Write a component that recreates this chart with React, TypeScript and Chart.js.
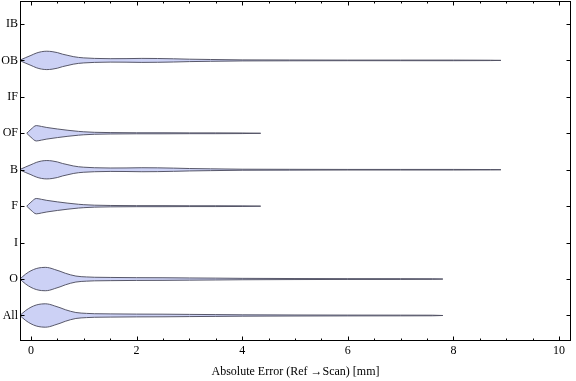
import React, { useEffect, useRef } from "react";
import { Chart, registerables } from "chart.js";

Chart.register(...registerables);

// Category labels, bottom (index 0) to top
const categories = ["All", "O", "I", "F", "B", "OF", "IF", "OB", "IB"];
const xTickValues = [0, 2, 4, 6, 8, 10];
const xTitle = "Absolute Error (Ref \u2192Scan) [mm]";

// Violin shapes: x positions (mm) and half-widths (in category units)
const obX = [-0.22, -0.1, 0, 0.1, 0.2, 0.3, 0.4, 0.5, 0.6, 0.7, 0.8, 0.9, 1.0, 1.2, 1.5, 1.8, 2.1, 2.4, 2.7, 3.0, 3.4, 4.0, 4.9, 6.0, 7.0, 8.0, 8.7, 8.9];
const obW = [0, 0.077, 0.137, 0.2, 0.239, 0.252, 0.241, 0.214, 0.17, 0.137, 0.104, 0.082, 0.069, 0.055, 0.047, 0.049, 0.055, 0.052, 0.044, 0.033, 0.025, 0.014, 0.011, 0.008, 0.008, 0.008, 0.005, 0];

const ofX = [-0.08, 0, 0.1, 0.2, 0.3, 0.5, 0.7, 0.9, 1.0, 1.2, 1.5, 2.0, 2.5, 3.0, 3.5, 4.0, 4.35];
const ofW = [0, 0.11, 0.211, 0.187, 0.159, 0.118, 0.082, 0.052, 0.041, 0.027, 0.019, 0.014, 0.014, 0.011, 0.011, 0.008, 0];

const oX = [-0.21, -0.1, 0, 0.1, 0.2, 0.27, 0.35, 0.45, 0.55, 0.65, 0.75, 0.85, 0.95, 1.05, 1.2, 1.5, 2.0, 2.5, 3.0, 3.5, 4.0, 5.0, 6.0, 7.0, 7.6, 7.8];
const oW = [0, 0.137, 0.228, 0.288, 0.316, 0.321, 0.307, 0.261, 0.214, 0.159, 0.115, 0.082, 0.066, 0.058, 0.049, 0.044, 0.038, 0.036, 0.03, 0.025, 0.019, 0.014, 0.011, 0.01, 0.008, 0];

// Which category gets which violin (categories without data stay empty)
const violinCats = ["All", "O", "F", "B", "OF", "OB"];
const violinXs = [oX, oX, ofX, obX, ofX, obX];
const violinWs = [oW, oW, ofW, obW, ofW, obW];

const FILL = "rgba(204,209,245,1)";
const STROKE = "rgba(80,80,98,0.95)";
const FONT = "'Liberation Serif', 'Times New Roman', serif";

const framePlugin = {
  id: "frameTicks",
  afterDraw(chart: any) {
    const { ctx, chartArea: a, scales } = chart;
    const x = scales.x;
    const y = scales.y;
    ctx.save();
    ctx.strokeStyle = "#000";
    ctx.lineWidth = 1;
    ctx.strokeRect(a.left + 0.5, a.top + 0.5, a.right - a.left - 1, a.bottom - a.top - 1);
    ctx.beginPath();
    const xt = (v: number, len: number) => {
      const px = Math.round(x.getPixelForValue(v)) + 0.5;
      ctx.moveTo(px, a.bottom);
      ctx.lineTo(px, a.bottom - len);
      ctx.moveTo(px, a.top);
      ctx.lineTo(px, a.top + len);
    };
    for (let i = 0; i < xTickValues.length; i++) {
      xt(xTickValues[i], 4.5);
      if (i < xTickValues.length - 1) {
        const step = (xTickValues[i + 1] - xTickValues[i]) / 4;
        for (let k = 1; k < 4; k++) xt(xTickValues[i] + k * step, 2.5);
      }
    }
    categories.forEach((_, i) => {
      const py = Math.round(y.getPixelForValue(i)) + 0.5;
      ctx.moveTo(a.left, py);
      ctx.lineTo(a.left + 4.5, py);
      ctx.moveTo(a.right, py);
      ctx.lineTo(a.right - 4.5, py);
    });
    ctx.stroke();
    ctx.restore();
  },
};

export default function App() {
  const ref = useRef<HTMLCanvasElement | null>(null);

  useEffect(() => {
    if (!ref.current) return;
    const datasets: any[] = [];
    violinCats.forEach((cat, vi) => {
      const c = categories.indexOf(cat);
      const xs = violinXs[vi];
      const ws = violinWs[vi];
      const common = {
        borderColor: STROKE,
        borderWidth: 1,
        pointRadius: 0,
        cubicInterpolationMode: "monotone",
        backgroundColor: FILL,
      };
      datasets.push({
        ...common,
        label: cat + " upper",
        data: xs.map((xv, i) => ({ x: xv, y: c + ws[i] })),
        fill: false,
      });
      datasets.push({
        ...common,
        label: cat + " lower",
        data: xs.map((xv, i) => ({ x: xv, y: c - ws[i] })),
        fill: "-1",
      });
    });

    const chart = new Chart(ref.current, {
      type: "line",
      data: { datasets },
      plugins: [framePlugin],
      options: {
        animation: false,
        responsive: false,
        maintainAspectRatio: false,
        layout: { padding: { top: 1, right: 5, left: 0, bottom: 0 } },
        plugins: { legend: { display: false }, tooltip: { enabled: false } },
        elements: { line: { tension: 0.4 } },
        scales: {
          x: {
            type: "linear",
            min: -0.208,
            max: 10.227,
            afterBuildTicks: (s: any) => {
              s.ticks = xTickValues.map((v) => ({ value: v }));
            },
            afterFit: (s: any) => {
              s.height = 40;
              s.paddingLeft = 0;
              s.paddingRight = 0;
            },
            grid: { display: false, drawTicks: false },
            border: { display: false },
            ticks: {
              color: "#000",
              font: { family: FONT, size: 12 },
              padding: 3,
              maxRotation: 0,
              callback: (v: any) => String(v),
            },
            title: {
              display: true,
              text: xTitle,
              color: "#000",
              font: { family: FONT, size: 12 },
              padding: { top: 0, bottom: 2 },
            },
          },
          y: {
            type: "linear",
            min: -0.7,
            max: 8.63,
            afterBuildTicks: (s: any) => {
              s.ticks = categories.map((_, i) => ({ value: i }));
            },
            afterFit: (s: any) => {
              s.width = 20;
              s.paddingTop = 0;
              s.paddingBottom = 0;
            },
            grid: { display: false, drawTicks: false },
            border: { display: false },
            ticks: {
              color: "#000",
              font: { family: FONT, size: 12 },
              padding: 2,
              callback: (v: any) => categories[Math.round(Number(v))] ?? "",
            },
          },
        },
      },
    });
    return () => chart.destroy();
  }, []);

  return (
    <div style={{ position: "fixed", left: 0, top: 0, width: 576, height: 381, background: "#fff" }}>
      <canvas ref={ref} width={576} height={381} style={{ width: 576, height: 381, display: "block" }} />
    </div>
  );
}
